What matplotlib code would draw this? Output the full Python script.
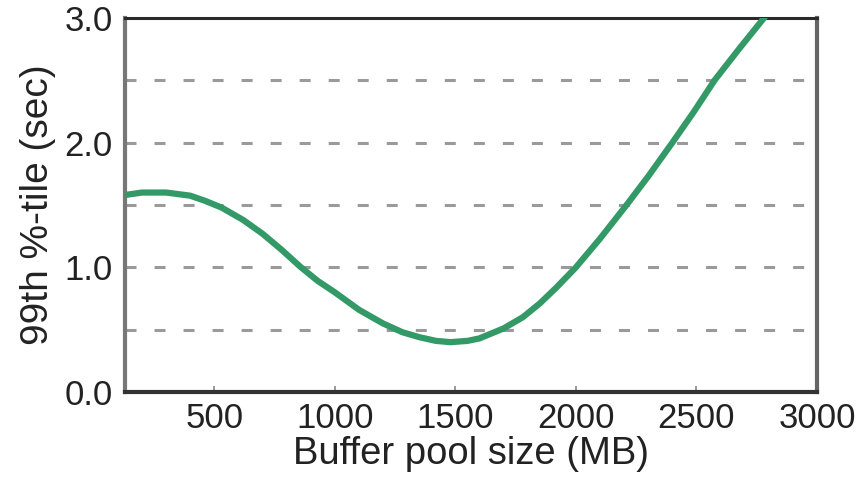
import numpy as np
import matplotlib
matplotlib.use("Agg")
import matplotlib.pyplot as plt

# values
pool_size_mb = [130, 200, 300, 400, 460, 530, 620, 700, 780, 860, 930, 1000, 1100,
                1200, 1280, 1350, 1420, 1480, 1550, 1600, 1700, 1780, 1850,
                1920, 2000, 2100, 2210, 2300, 2400, 2490, 2575, 2680, 2780, 2880]
p99_sec = [1.58, 1.60, 1.60, 1.575, 1.535, 1.48, 1.38, 1.27, 1.14, 1.00, 0.89, 0.80, 0.66,
           0.55, 0.48, 0.44, 0.41, 0.40, 0.41, 0.43, 0.51, 0.60, 0.71,
           0.84, 1.00, 1.23, 1.50, 1.73, 2.00, 2.25, 2.50, 2.76, 3.00, 3.25]

grid_levels = [0.5, 1.0, 1.5, 2.0, 2.5]
x_ticks = [500, 1000, 1500, 2000, 2500, 3000]
y_ticks = [0.0, 1.0, 2.0, 3.0]

plt.rcParams['font.family'] = ['Liberation Sans', 'DejaVu Sans']

fig = plt.figure(figsize=(8.64, 4.8), dpi=100)
ax = fig.add_axes([0.1447, 0.1833, 0.8009, 0.7792])

for lvl in grid_levels:
    ax.axhline(lvl, color='#9a9a9a', lw=2.2, dashes=(3.6, 5.9), zorder=1)

ax.plot(pool_size_mb, p99_sec, color='#339966', lw=4.5,
        solid_capstyle='round', solid_joinstyle='round', zorder=3)

ax.set_xlim(130, 3000)
ax.set_ylim(0, 3.0)
ax.set_xticks(x_ticks)
ax.set_yticks(y_ticks)
ax.set_yticklabels([f"{v:.1f}" for v in y_ticks])

ax.tick_params(axis='x', direction='in', length=4, width=1.2, color='#888888',
               labelsize=25, labelcolor='#222222', pad=7)
ax.tick_params(axis='y', length=0, labelsize=25, labelcolor='#222222', pad=9)

ax.spines['left'].set_color('#777777')
ax.spines['left'].set_linewidth(3)
ax.spines['right'].set_color('#666666')
ax.spines['right'].set_linewidth(3)
ax.spines['top'].set_color('#2a2a2a')
ax.spines['top'].set_linewidth(2.2)
ax.spines['bottom'].set_color('#333333')
ax.spines['bottom'].set_linewidth(3)

ax.set_xlabel('Buffer pool size (MB)', fontsize=27.5, color='#222222', labelpad=1)
ax.set_ylabel('99th %-tile (sec)', fontsize=28, color='#222222', labelpad=6)

fig.savefig('out.png', dpi=100)
